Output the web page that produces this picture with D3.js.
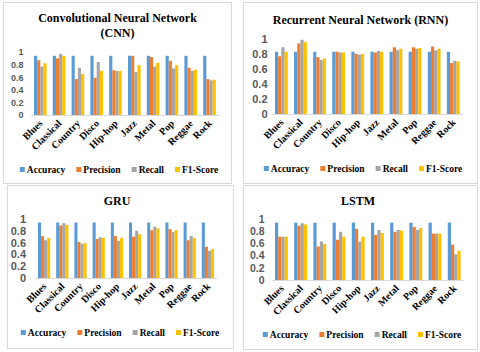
<!DOCTYPE html>
<html><head><meta charset="utf-8">
<script src="https://cdn.jsdelivr.net/npm/d3@7"></script>
<style>body{margin:0;background:#fff}svg{display:block}</style>
</head><body>
<svg id="c" width="480" height="352"></svg>
<script>
const genres = ["Blues","Classical","Country","Disco","Hip-hop","Jazz","Metal","Pop","Reggae","Rock"];
const metrics = ["Accuracy","Precision","Recall","F1-Score"];
const colors = ["#5B9BD5","#ED7D31","#A5A5A5","#FFC000"];
const yTicks = [0,0.2,0.4,0.6,0.8,1];
const yTickLabels = ["0","0.2","0.4","0.6","0.8","1"];

const cnnAccuracy  = [0.94,0.94,0.94,0.94,0.94,0.94,0.94,0.94,0.94,0.94];
const cnnPrecision = [0.87,0.90,0.57,0.59,0.71,0.94,0.92,0.86,0.75,0.57];
const cnnRecall    = [0.77,0.97,0.75,0.84,0.70,0.68,0.77,0.74,0.70,0.55];
const cnnF1        = [0.82,0.94,0.65,0.70,0.70,0.79,0.83,0.79,0.72,0.56];

const rnnAccuracy  = [0.83,0.83,0.83,0.83,0.83,0.83,0.83,0.83,0.83,0.83];
const rnnPrecision = [0.77,0.94,0.76,0.83,0.80,0.82,0.89,0.89,0.90,0.68];
const rnnRecall    = [0.89,0.99,0.72,0.82,0.79,0.84,0.85,0.87,0.85,0.71];
const rnnF1        = [0.83,0.96,0.74,0.82,0.80,0.83,0.87,0.88,0.87,0.70];

const gruAccuracy  = [0.94,0.94,0.94,0.94,0.94,0.94,0.94,0.94,0.94,0.94];
const gruPrecision = [0.71,0.89,0.61,0.66,0.71,0.70,0.81,0.83,0.64,0.53];
const gruRecall    = [0.64,0.93,0.58,0.69,0.63,0.80,0.87,0.78,0.71,0.46];
const gruF1        = [0.68,0.90,0.59,0.68,0.68,0.74,0.84,0.81,0.68,0.49];

const lstmAccuracy  = [0.94,0.94,0.94,0.94,0.94,0.94,0.94,0.94,0.94,0.94];
const lstmPrecision = [0.71,0.89,0.55,0.66,0.84,0.74,0.79,0.87,0.76,0.58];
const lstmRecall    = [0.71,0.93,0.63,0.79,0.63,0.82,0.82,0.82,0.76,0.42];
const lstmF1        = [0.71,0.91,0.59,0.71,0.71,0.77,0.81,0.85,0.76,0.48];

const panels = [
  {box:[3,2,228,181], title:["Convolutional Neural Network","(CNN)"], tx:117.5, ty:22, xr:[30.9,218.9], yr:[115,52], tick:9, tickX:23.5, legY:173, legCx:119,
   series:[cnnAccuracy,cnnPrecision,cnnRecall,cnnF1]},
  {box:[243,2,234,181], title:["Recurrent Neural Network (RNN)"], tx:360.5, ty:24, xr:[271.8,462.8], yr:[114,39], tick:11, tickX:267.5, legY:172, legCx:363,
   series:[rnnAccuracy,rnnPrecision,rnnRecall,rnnF1]},
  {box:[7,185,226,163], title:["GRU"], tx:117, ty:205, xr:[35,217], yr:[278,219], tick:11, tickX:26, legY:336, legCx:120,
   series:[gruAccuracy,gruPrecision,gruRecall,gruF1]},
  {box:[243,185,234,164], title:["LSTM"], tx:358, ty:205, xr:[271.8,463.8], yr:[280,219], tick:10.5, tickX:264.5, legY:338, legCx:362,
   series:[lstmAccuracy,lstmPrecision,lstmRecall,lstmF1]}
];

const svg = d3.select("#c");
const serif = "'Liberation Serif','Times New Roman',serif";
const sans = "'Liberation Sans',Arial,sans-serif";

panels.forEach(p => {
  const g = svg.append("g");
  g.append("rect").attr("x",p.box[0]+0.5).attr("y",p.box[1]+0.5).attr("width",p.box[2]).attr("height",p.box[3])
    .attr("fill","#fff").attr("stroke","#d9d9d9").attr("stroke-width",1);

  p.title.forEach((t,i) => {
    g.append("text").attr("x",p.tx).attr("y",p.ty + i*15).attr("text-anchor","middle")
      .attr("font-family",serif).attr("font-weight","bold").attr("font-size",12).attr("fill","#000").text(t);
  });

  const x = d3.scaleBand().domain(genres).range(p.xr).paddingInner(0.33).paddingOuter(0.165);
  const xi = d3.scaleBand().domain(metrics).range([0, x.bandwidth()]);
  const y = d3.scaleLinear().domain([0,1]).range(p.yr);

  // y tick labels
  const yAxis = d3.axisLeft(y).tickValues(yTicks).tickFormat((d,i)=>yTickLabels[i]).tickSize(0).tickPadding(0);
  const ya = g.append("g").attr("transform",`translate(${p.tickX},0)`).call(yAxis);
  ya.select(".domain").remove();
  ya.selectAll("text").attr("font-family",sans).attr("font-weight","bold").attr("font-size",p.tick).attr("fill","#595959");

  // baseline
  g.append("line").attr("x1",p.xr[0]).attr("x2",p.xr[1]).attr("y1",y(0)+0.5).attr("y2",y(0)+0.5)
    .attr("stroke","#d9d9d9").attr("stroke-width",1);

  // bars
  const data = [];
  genres.forEach((gn,gi) => metrics.forEach((m,mi) => data.push({g:gn, m:m, mi:mi, v:p.series[mi][gi]})));
  g.selectAll("rect.bar").data(data).enter().append("rect").attr("class","bar")
    .attr("x", d => x(d.g) + xi(d.m))
    .attr("width", xi.bandwidth())
    .attr("y", d => y(d.v))
    .attr("height", d => y(0) - y(d.v))
    .attr("fill", d => colors[d.mi]);

  // x labels
  g.selectAll("text.xl").data(genres).enter().append("text").attr("class","xl")
    .attr("transform", d => `translate(${x(d)+x.bandwidth()/2+3},${y(0)+9}) rotate(-45)`)
    .attr("text-anchor","end")
    .attr("font-family",serif).attr("font-weight","bold").attr("font-size",10).attr("fill","#000")
    .text(d=>d);

  // legend
  const lg = g.append("g");
  let cx = 0;
  metrics.forEach((m,i) => {
    const it = lg.append("g").attr("transform",`translate(${cx},0)`);
    it.append("rect").attr("x",0).attr("y",-6).attr("width",5).attr("height",5).attr("fill",colors[i]);
    const t = it.append("text").attr("x",7).attr("y",0)
      .attr("font-family",serif).attr("font-weight","bold").attr("font-size",9.5).attr("fill","#000").text(m);
    cx += 7 + t.node().getComputedTextLength() + 11;
  });
  const total = cx - 11;
  lg.attr("transform",`translate(${p.legCx - total/2},${p.legY})`);
});
</script>
</body></html>
